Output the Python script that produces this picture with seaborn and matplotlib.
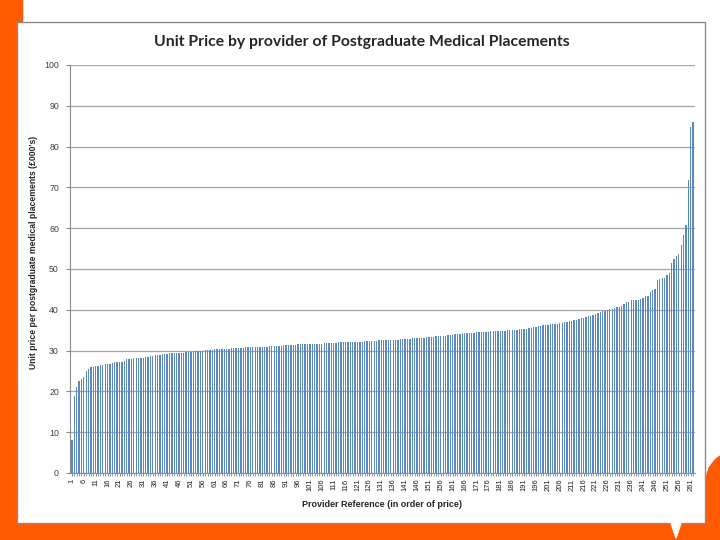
import matplotlib
matplotlib.use('Agg')
import matplotlib.pyplot as plt
import matplotlib.patches as mpatches
import seaborn as sns
import pandas as pd

# unit price per provider (£000's), sorted ascending
unit_price = [
    8.0, 18.8, 21.0, 22.6, 23.0, 23.6, 25.1, 25.6, 26.0, 26.1,
    26.2, 26.3, 26.5, 26.5, 26.6, 26.7, 26.8, 27.0, 27.1, 27.2,
    27.2, 27.3, 27.5, 27.9, 28.0, 28.0, 28.1, 28.2, 28.2, 28.3,
    28.3, 28.4, 28.5, 28.7, 28.7, 28.8, 28.9, 29.0, 29.1, 29.2,
    29.2, 29.3, 29.3, 29.3, 29.4, 29.4, 29.5, 29.5, 29.6, 29.6,
    29.7, 29.7, 29.8, 29.9, 30.0, 30.0, 30.1, 30.1, 30.2, 30.2,
    30.3, 30.3, 30.4, 30.4, 30.5, 30.5, 30.5, 30.6, 30.6, 30.6,
    30.7, 30.7, 30.7, 30.8, 30.8, 30.8, 30.9, 30.9, 30.9, 30.9,
    31.0, 31.0, 31.0, 31.1, 31.1, 31.1, 31.2, 31.2, 31.2, 31.3,
    31.3, 31.3, 31.4, 31.4, 31.4, 31.5, 31.5, 31.5, 31.5, 31.6,
    31.6, 31.6, 31.6, 31.7, 31.7, 31.7, 31.8, 31.8, 31.8, 31.9,
    31.9, 31.9, 32.0, 32.0, 32.0, 32.0, 32.1, 32.1, 32.1, 32.1,
    32.2, 32.2, 32.2, 32.3, 32.3, 32.3, 32.4, 32.4, 32.4, 32.5,
    32.5, 32.5, 32.6, 32.6, 32.6, 32.7, 32.7, 32.7, 32.8, 32.8,
    32.8, 32.9, 32.9, 33.0, 33.0, 33.1, 33.1, 33.2, 33.2, 33.3,
    33.3, 33.4, 33.4, 33.5, 33.6, 33.6, 33.7, 33.7, 33.8, 33.9,
    33.9, 34.0, 34.0, 34.1, 34.2, 34.2, 34.3, 34.3, 34.4, 34.4,
    34.5, 34.5, 34.5, 34.6, 34.6, 34.6, 34.7, 34.7, 34.8, 34.8,
    34.8, 34.9, 34.9, 35.0, 35.0, 35.0, 35.1, 35.1, 35.2, 35.2,
    35.3, 35.4, 35.5, 35.6, 35.7, 35.9, 36.0, 36.1, 36.2, 36.3,
    36.3, 36.4, 36.5, 36.6, 36.6, 36.7, 36.8, 37.0, 37.1, 37.2,
    37.3, 37.5, 37.6, 37.8, 37.9, 38.0, 38.2, 38.4, 38.6, 38.8,
    39.0, 39.2, 39.4, 39.6, 39.8, 40.0, 40.2, 40.3, 40.5, 40.6,
    40.8, 41.0, 41.4, 41.8, 42.0, 42.3, 42.4, 42.5, 42.5, 42.7,
    43.0, 43.3, 43.5, 44.3, 44.8, 45.0, 47.3, 47.5, 47.8, 47.8,
    48.5, 49.0, 51.4, 52.4, 53.1, 53.7, 55.9, 58.3, 60.8, 71.8,
    84.9, 86.1,
]
provider_ref = list(range(1, len(unit_price) + 1))
tick_labels = [str(r) for r in provider_ref if (r - 1) % 5 == 0]
y_ticks = [0, 10, 20, 30, 40, 50, 60, 70, 80, 90, 100]

df = pd.DataFrame({'provider': provider_ref, 'price': unit_price})

sns.set_style('white')
plt.rcParams['font.family'] = ['Liberation Sans', 'DejaVu Sans']

W, H = 720, 540
orange = '#ff5a00'
fig = plt.figure(figsize=(7.2, 5.4), dpi=100, facecolor='white')

# slide decoration
fig.patches.append(mpatches.Rectangle((0, 0), 22 / W, 1, transform=fig.transFigure,
                                      color=orange, zorder=0))
fig.patches.append(mpatches.Rectangle((0, 0), 1, 18 / H, transform=fig.transFigure,
                                      color=orange, zorder=0))
blob = [(706, 540), (706, 478), (709, 468), (715, 460), (720, 456), (720, 540)]
fig.patches.append(mpatches.Polygon([(x / W, 1 - y / H) for x, y in blob],
                                    transform=fig.transFigure, color=orange, zorder=0))
# chart frame
fig.patches.append(mpatches.Rectangle((17 / W, 1 - 523 / H), (705 - 17) / W, (523 - 22) / H,
                                      transform=fig.transFigure, facecolor='white',
                                      edgecolor='#8c8c8c', lw=1, zorder=1))
notch = [(671, 523), (681, 523), (676, 538)]
fig.patches.append(mpatches.Polygon([(x / W, 1 - y / H) for x, y in notch],
                                    transform=fig.transFigure, color='white', zorder=2))

ax = fig.add_axes([70 / W, 1 - 473 / H, (695 - 70) / W, (473 - 65) / H])
ax.set_facecolor('none')
ax.set_zorder(3)

sns.barplot(data=df, x='provider', y='price', color='#5b88c2', width=0.55,
            saturation=1, linewidth=0, edgecolor='none', ax=ax)

ax.set_ylim(0, 100)
ax.set_xlim(-0.8, len(unit_price) - 0.2)
ax.set_yticks(y_ticks)
ax.set_yticklabels([str(t) for t in y_ticks], fontsize=6.3, color='#404040')
ax.set_xticks(range(len(unit_price)), minor=True)
ax.set_xticks([int(t) - 1 for t in tick_labels])
ax.set_xticklabels(tick_labels, rotation=90, fontsize=5.5, color='#202020')
ax.tick_params(axis='y', length=3, color='#8c8c8c', pad=5, left=True)
ax.tick_params(axis='x', which='both', length=2.5, color='#8c8c8c', pad=1.5, bottom=True)
ax.yaxis.grid(True, color='#a6a6a6', lw=0.9)
ax.set_axisbelow(True)
for side in ['top', 'right']:
    ax.spines[side].set_visible(False)
ax.spines['left'].set_color('#8c8c8c')
ax.spines['bottom'].set_color('#8c8c8c')

ax.set_xlabel('Provider Reference (in order of price)', fontsize=6.5, fontweight='bold')
ax.set_ylabel("Unit price per postgraduate medical placements (£000's)", fontsize=6.2,
              fontweight='bold')
ax.xaxis.set_label_coords(0.5, -(500 - 473) / 408)
ax.yaxis.set_label_coords(-(70 - 38) / 625, (473 - 252) / 408)
fig.text(362 / W, 1 - 42 / H, 'Unit Price by provider of Postgraduate Medical Placements',
         ha='center', va='center', fontsize=11.3, family=['Lato', 'DejaVu Sans'],
         fontweight='bold', zorder=4)

fig.savefig('out.png', dpi=100)
